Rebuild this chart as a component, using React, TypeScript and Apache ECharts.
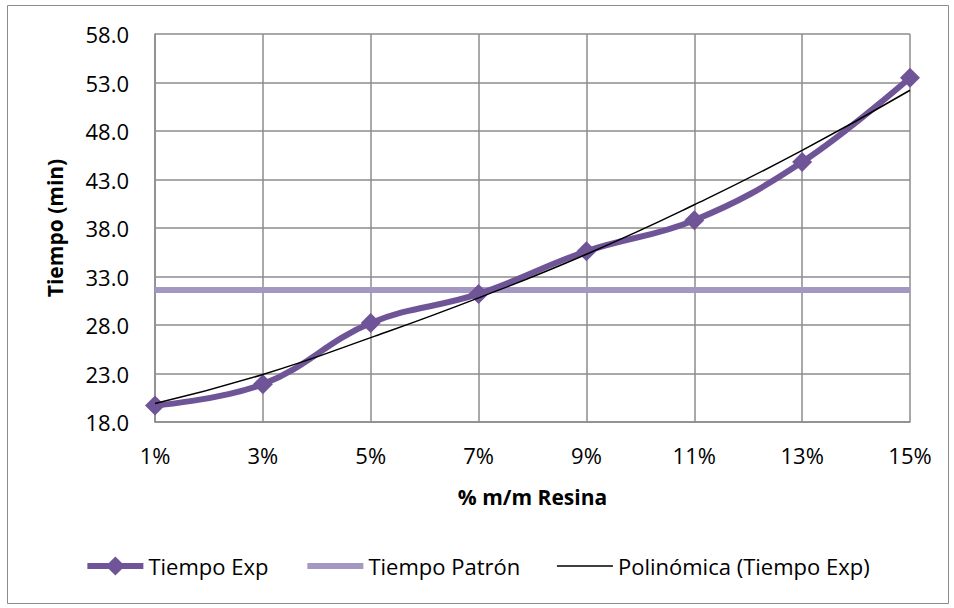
import React, { useEffect, useRef } from "react";
import * as echarts from "echarts";

const categories = ["1%", "3%", "5%", "7%", "9%", "11%", "13%", "15%"];
const tiempoExp = [19.7, 21.9, 28.2, 31.2, 35.6, 38.8, 44.8, 53.5];
const tiempoPatron = [31.6, 31.6, 31.6, 31.6, 31.6, 31.6, 31.6, 31.6];
const polinomica = [19.9, 22.9, 26.7, 30.8, 35.3, 40.4, 46.0, 52.2];

const FONT = "'Open Sans', 'Liberation Sans', sans-serif";

export default function App() {
  const ref = useRef<HTMLDivElement>(null);
  useEffect(() => {
    if (!ref.current) return;
    const chart = echarts.init(ref.current, null, { renderer: "svg" });
    chart.setOption({
      animation: false,
      backgroundColor: "#ffffff",
      textStyle: { fontFamily: FONT },
      graphic: [
        {
          type: "rect",
          shape: { x: 7.5, y: 5.5, width: 941, height: 598 },
          style: { fill: "none", stroke: "#8c8c8c", lineWidth: 1 },
          silent: true,
        },
      ],
      grid: { left: 155, right: 44, top: 34, bottom: 186, containLabel: false },
      legend: {
        bottom: 26,
        left: "center",
        itemGap: 36,
        itemWidth: 56,
        itemHeight: 24,
        textStyle: { fontFamily: FONT, fontSize: 22, color: "#000" },
        data: [
          { name: "Tiempo Exp", lineStyle: { width: 6 } },
          { name: "Tiempo Patrón", lineStyle: { width: 6 }, itemStyle: { opacity: 0 } },
          { name: "Polinómica (Tiempo Exp)", lineStyle: { width: 1.5 }, itemStyle: { opacity: 0 } },
        ],
      },
      xAxis: {
        type: "category",
        data: categories,
        boundaryGap: false,
        name: "% m/m Resina",
        nameLocation: "middle",
        nameGap: 64,
        nameTextStyle: { fontFamily: FONT, fontSize: 21, fontWeight: "bold", color: "#000" },
        axisLine: { show: true, lineStyle: { color: "#8c8c8c", width: 1.5 } },
        axisTick: { show: false },
        axisLabel: { fontFamily: FONT, fontSize: 22, color: "#000", margin: 22 },
        splitLine: { show: true, lineStyle: { color: "#8c8c8c", width: 1.5 } },
      },
      yAxis: {
        type: "value",
        min: 18,
        max: 58,
        interval: 5,
        name: "Tiempo (min)",
        nameLocation: "middle",
        nameRotate: 90,
        nameGap: 90,
        nameTextStyle: { fontFamily: FONT, fontSize: 21, fontWeight: "bold", color: "#000" },
        axisLine: { show: true, lineStyle: { color: "#8c8c8c", width: 1.5 } },
        axisTick: { show: false },
        axisLabel: {
          fontFamily: FONT,
          fontSize: 22,
          color: "#000",
          margin: 26,
          formatter: (v: number) => v.toFixed(1),
        },
        splitLine: { show: true, lineStyle: { color: "#8c8c8c", width: 1.5 } },
      },
      series: [
        {
          name: "Tiempo Patrón",
          type: "line",
          data: tiempoPatron,
          symbol: "none",
          lineStyle: { color: "#a497c2", width: 6 },
          itemStyle: { color: "#a497c2" },
          z: 2,
        },
        {
          name: "Tiempo Exp",
          type: "line",
          data: tiempoExp,
          smooth: 0.4,
          symbol: "diamond",
          symbolSize: 20,
          lineStyle: { color: "#6f5597", width: 6 },
          itemStyle: { color: "#6f5597" },
          z: 3,
        },
        {
          name: "Polinómica (Tiempo Exp)",
          type: "line",
          data: polinomica,
          smooth: true,
          symbol: "none",
          lineStyle: { color: "#000000", width: 1.5 },
          itemStyle: { color: "#000000" },
          z: 4,
        },
      ],
    });
    return () => chart.dispose();
  }, []);
  return (
    <div
      ref={ref}
      style={{ position: "fixed", left: 0, top: 0, width: 954, height: 608 }}
    />
  );
}
